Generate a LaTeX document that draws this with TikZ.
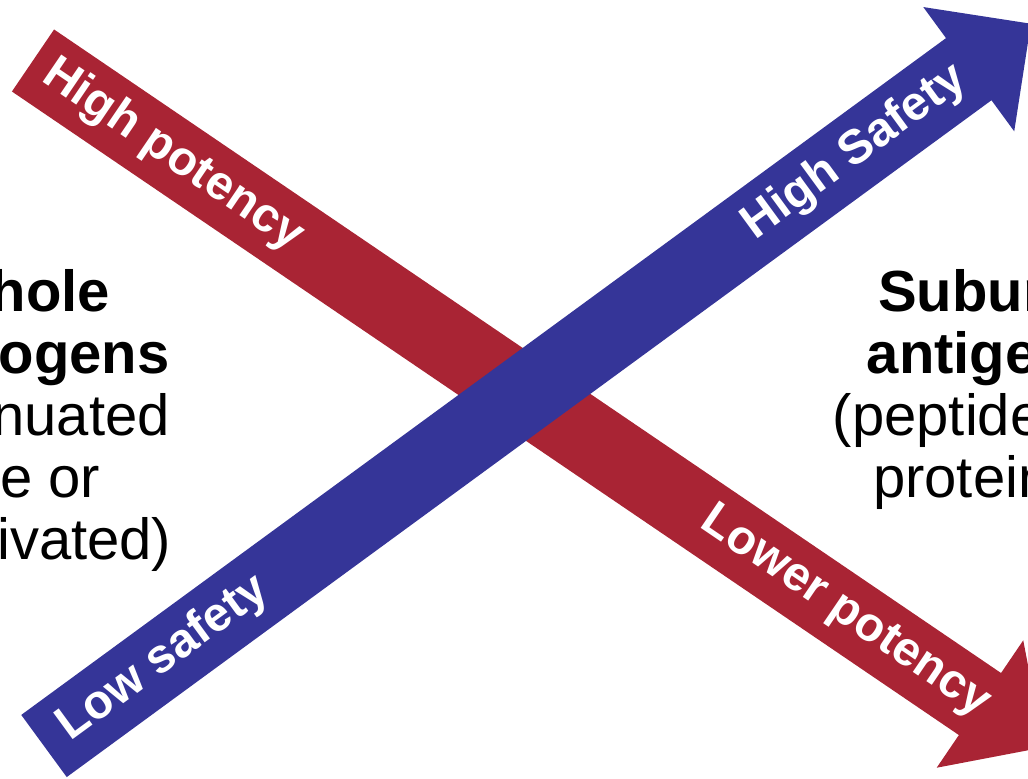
\documentclass[tikz,border=0pt]{standalone}
\usepackage{fontspec}
\setmainfont{Liberation Sans}
\definecolor{potred}{RGB}{169,36,52}
\definecolor{safeblue}{RGB}{53,53,152}
\tikzset{
  barlabel/.style={text=white, inner sep=0pt, font=\bfseries\fontsize{48}{52}\selectfont},
  sidetext/.style={align=center, inner sep=0pt, font=\fontsize{58}{62}\selectfont}
}

\begin{document}
\begin{tikzpicture}[x=1pt, y=1pt]
  % Frame of the picture (1028 x 779)
  \useasboundingbox (0,0) rectangle (1028,779);
  \clip (0,0) rectangle (1028,779);

  % Tail centres of the two bars
  \coordinate (R) at (33,718.5);
  \coordinate (B) at (44,33);

  % Red bar: potency goes down
  \begin{scope}[shift={(R)}, rotate=-34.2, transform shape]
    \fill[potred] (0,-37.5) -- (1145,-37.5) -- (1145,-77) -- (1222,0)
      -- (1145,77) -- (1145,37.5) -- (0,37.5) -- cycle;
    \node[barlabel] (hipot) at (169,0) {High potency};
    \node[barlabel] (lopot) at (982,0) {Lower potency};
  \end{scope}

  % Blue bar: safety goes up (on top)
  \begin{scope}[shift={(B)}, rotate=36.2, transform shape]
    \fill[safeblue] (0,-38.5) -- (1146,-38.5) -- (1146,-77) -- (1223,0)
      -- (1146,77) -- (1146,38.5) -- (0,38.5) -- cycle;
    \node[barlabel] (losafe) at (148,0) {Low safety};
    \node[barlabel] (hisafe) at (1005,0) {High Safety};
  \end{scope}

  % Side texts
  \node[sidetext] (whole) at (23,359)
    {\textbf{Whole}\\\textbf{pathogens}\\(attenuated\\live or\\inactivated)};
  \node[sidetext] (subunit) at (986,389)
    {\textbf{Subunit}\\\textbf{antigens}\\(peptides or\\proteins)};
\end{tikzpicture}
\end{document}
